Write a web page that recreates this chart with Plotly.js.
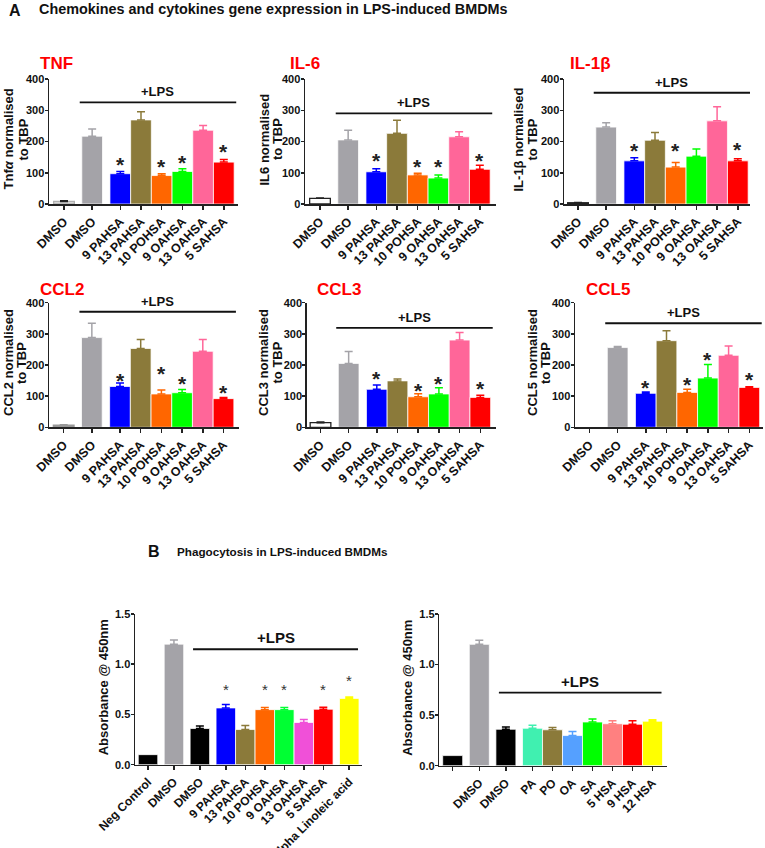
<!DOCTYPE html>
<html><head><meta charset="utf-8">
<script src="https://cdn.plot.ly/plotly-3.0.1.min.js"></script>
<style>html,body{margin:0;padding:0;background:#fff}#chart{width:765px;height:848px}</style>
</head><body><div id="chart"></div>
<script>
// ---------------- DATA ----------------
const catsA = ["DMSO","DMSO","9 PAHSA","13 PAHSA","10 POHSA","9 OAHSA","13 OAHSA","5 SAHSA"];

const tnfVals  = [8, 217, 97, 269, 91, 104, 236, 134];
const tnfErr   = [2, 23, 7, 26, 6, 9, 15, 8];
const tnfStars = [null, null, 146, null, 138, 151, null, 187];

const il6Vals  = [18, 205, 103, 226, 93, 83, 215, 111];
const il6Err   = [1, 31, 10, 42, 5, 10, 16, 13];
const il6Stars = [null, null, 157, null, 140, 140, null, 157];

const il1bVals  = [4, 246, 138, 204, 118, 153, 266, 138];
const il1bErr   = [1, 14, 10, 25, 15, 23, 45, 7];
const il1bStars = [null, null, 189, null, 189, null, null, 194];

const ccl2Vals  = [7, 288, 131, 253, 107, 111, 244, 92];
const ccl2Err   = [1, 46, 11, 29, 13, 10, 38, 4];
const ccl2Stars = [null, null, 170, null, 191, 161, null, 130];

const ccl3Vals  = [15, 205, 122, 149, 98, 107, 280, 96];
const ccl3Err   = [2, 38, 14, 6, 10, 20, 24, 7];
const ccl3Stars = [null, null, 175, null, 136, 160, null, 143];

const ccl5Vals  = [0, 256, 109, 278, 112, 158, 231, 128];
const ccl5Err   = [0, 3, 4, 32, 10, 44, 30, 2];
const ccl5Stars = [null, null, 146, null, 157, 237, null, 173];

const lpsLevelsA = [325, 290, 356, 371, 319, 334];

const catsB1  = ["Neg Control","DMSO","DMSO","9 PAHSA","13 PAHSA","10 POHSA","9 OAHSA","13 OAHSA","5 SAHSA","alpha Linoleic acid"];
const valsB1  = [0.10, 1.20, 0.36, 0.565, 0.35, 0.548, 0.548, 0.42, 0.552, 0.66];
const errB1   = [0, 0.04, 0.025, 0.035, 0.04, 0.022, 0.022, 0.03, 0.02, 0.015];
const starsB1 = [null, null, null, 0.79, null, 0.79, 0.79, null, 0.785, 0.875];

const catsB2  = ["","DMSO","DMSO","PA","PO","OA","SA","5 HSA","9 HSA","12 HSA"];
const valsB2  = [0.10, 1.20, 0.36, 0.37, 0.355, 0.298, 0.432, 0.415, 0.41, 0.44];
const errB2   = [0, 0.04, 0.022, 0.03, 0.022, 0.04, 0.03, 0.03, 0.035, 0.015];
const starsB2 = [null, null, null, null, null, null, null, null, null, null];

const lpsLevelsB = [1.149, 0.722];

// ---------------- STYLE / LAYOUT ----------------
const W = 765, H = 848;
const FONT = 'Liberation Sans, Arial, Helvetica, sans-serif';
const colA = ['#a4a3a8','#0000ff','#8b7a3a','#ff6600','#00ff00','#ff6699','#ff0000'];
const stepsA = [1.36,1.36,1,1,1,1,1];
const colB1 = ['#000000','#a4a3a8','#000000','#0000ff','#8b7a3a','#ff6600','#00ff33','#f050d8','#ff0000','#ffff00'];
const colB2 = ['#000000','#a4a3a8','#000000','#40f0b0','#8b7a3a','#55a0ff','#00ff00','#ff8080','#ff0000','#ffff00'];
const stepsB1 = [1.33,1.33,1.33,1,1,1,1,1,1.33];
const stepsB2 = [1.33,1.33,1.33,1,1,1,1,1,1];

const panels = [
 {title:'TNF', ytitle:['Tnf<i>α</i> normalised','to TBP'], ytx:[8,23], cats:catsA, vals:tnfVals, err:tnfErr, stars:tnfStars, lps:lpsLevelsA[0],
  colors:['#e4e4e4'].concat(colA), firstLine:'#b0b0b0', px:[49,238], py:[79,204], c0:64, u:20.7, steps:stepsA,
  tpos:[38,64], yrange:[0,400], dtick:100, fmt:'', big:true},
 {title:'IL-6', ytitle:['IL6 normalised','to TBP'], ytx:[264,277.5], cats:catsA, vals:il6Vals, err:il6Err, stars:il6Stars, lps:lpsLevelsA[1],
  colors:['#ffffff'].concat(colA), firstLine:'#222222', px:[305,496], py:[79,204], c0:320, u:20.7, steps:stepsA,
  tpos:[288,64], yrange:[0,400], dtick:100, fmt:'', big:true},
 {title:'IL-1β', ytitle:['IL-1β normalised','to TBP'], ytx:[518,532], cats:catsA, vals:il1bVals, err:il1bErr, stars:il1bStars, lps:lpsLevelsA[2],
  colors:['#222222'].concat(colA), firstLine:'#222222', px:[564,750], py:[79,204], c0:578, u:20.7, steps:stepsA,
  tpos:[568,64], yrange:[0,400], dtick:100, fmt:'', big:true},
 {title:'CCL2', ytitle:['CCL2 normalised','to TBP'], ytx:[8,21], cats:catsA, vals:ccl2Vals, err:ccl2Err, stars:ccl2Stars, lps:lpsLevelsA[3],
  colors:['#999999'].concat(colA), firstLine:'#999999', px:[49,239], py:[302.7,427.3], c0:63.7, u:20.7, steps:stepsA,
  tpos:[38,289], yrange:[0,400], dtick:100, fmt:'', big:true},
 {title:'CCL3', ytitle:['CCL3 normalised','to TBP'], ytx:[263,276.5], cats:catsA, vals:ccl3Vals, err:ccl3Err, stars:ccl3Stars, lps:lpsLevelsA[4],
  colors:['#ffffff'].concat(colA), firstLine:'#222222', px:[306.7,496], py:[302.7,427.3], c0:320.5, u:20.7, steps:stepsA,
  tpos:[315,289], yrange:[0,400], dtick:100, fmt:'', big:true},
 {title:'CCL5', ytitle:['CCL5 normalised','to TBP'], ytx:[532,545], cats:catsA, vals:ccl5Vals, err:ccl5Err, stars:ccl5Stars, lps:lpsLevelsA[5],
  colors:['#ffffff'].concat(colA), firstLine:'#ffffff', px:[575,763], py:[302.7,427.3], c0:589.5, u:20.7, steps:stepsA,
  tpos:[584,289], yrange:[0,400], dtick:100, fmt:'', big:true},
 {title:'', ytitle:['Absorbance @ 450nm'], ytx:[103], cats:catsB1, vals:valsB1, err:errB1, stars:starsB1, lps:lpsLevelsB[0],
  colors:colB1, firstLine:null, px:[135,362], py:[614,764.7], c0:148, u:19.5, steps:stepsB1,
  tpos:null, yrange:[0,1.5], dtick:0.5, fmt:'.1f', big:false},
 {title:'', ytitle:['Absorbance @ 450nm'], ytx:[408], cats:catsB2, vals:valsB2, err:errB2, stars:starsB2, lps:lpsLevelsB[1],
  colors:colB2, firstLine:null, px:[439.3,666.7], py:[614,765.7], c0:452.7, u:20, steps:stepsB2,
  tpos:null, yrange:[0,1.5], dtick:0.5, fmt:'.1f', big:false}
];

const traces = [], shapes = [], annotations = [];
const layout = {
  width: W, height: H, margin:{l:0,r:0,t:0,b:0}, showlegend:false,
  paper_bgcolor:'#ffffff', plot_bgcolor:'rgba(0,0,0,0)',
  font:{family:FONT, color:'#111'}, barmode:'overlay'
};

panels.forEach((p, k) => {
  const n = k + 1;
  const xa = 'x' + n, ya = 'y' + n;
  const pos = [0];
  p.steps.forEach((s, i) => pos.push(pos[i] + s));
  const xr = [(p.px[0] - p.c0) / p.u, (p.px[1] - p.c0) / p.u];

  p.vals.forEach((v, i) => {
    const isFirstCustom = (i === 0 && p.firstLine);
    const col = p.colors[i];
    const lineCol = isFirstCustom ? p.firstLine : 'rgba(255,255,255,0.75)';
    const errCol = (col === '#ffffff' || col === '#e4e4e4') ? '#222222' : col;
    traces.push({
      type:'bar', x:[pos[i]], y:[v], width:[1.0], name:p.cats[i],
      marker:{color:col, line:{color:lineCol, width: isFirstCustom ? 1.3 : 1}},
      error_y:{type:'data', symmetric:false, array:[p.err[i]], arrayminus:[0],
               color:errCol, thickness:1.5, width:4, visible: p.err[i] > 0},
      xaxis:xa, yaxis:ya, hoverinfo:'skip', showlegend:false
    });
    if (p.stars[i] != null) {
      annotations.push({xref:xa, yref:ya, x:pos[i], y:p.stars[i], text:'*', showarrow:false,
        xanchor:'center', yanchor:'middle', yshift: p.big ? -6 : -4,
        font:{size: p.big ? 21 : 15, color: p.big ? '#222' : '#333', weight: p.big ? 'bold' : 'normal'}});
    }
  });

  const last = pos[pos.length - 1];
  const lx0 = p.big ? pos[1] - 0.6 : pos[2] - 0.35;
  const lx1 = p.big ? last + 0.6 : last + 0.45;
  shapes.push({type:'line', xref:xa, yref:ya, x0:lx0, x1:lx1, y0:p.lps, y1:p.lps,
               line:{color:'#111', width:1.8}});
  annotations.push({xref:xa, yref:ya, x:(lx0 + lx1) / 2, y:p.lps, text:'+LPS', showarrow:false,
    xanchor:'center', yanchor:'bottom', yshift:1,
    font:{size: p.big ? 13 : 15, weight:'bold', color:'#111'}});

  layout['xaxis' + (n === 1 ? '' : n)] = {
    domain:[p.px[0] / W, p.px[1] / W], range:xr, anchor:ya,
    tickmode:'array', tickvals:pos, ticktext:p.cats, tickangle:-45,
    tickfont:{size: p.big ? 12.5 : 12, weight:'bold', color:'#111'},
    ticks:'outside', ticklen:4, tickwidth:1.5, tickcolor:'#222',
    showline:true, linewidth:1.5, linecolor:'#222', showgrid:false, zeroline:false, fixedrange:true
  };
  layout['yaxis' + (n === 1 ? '' : n)] = {
    domain:[1 - p.py[1] / H, 1 - p.py[0] / H], range:p.yrange, anchor:xa,
    tick0:0, dtick:p.dtick, tickformat:p.fmt,
    tickfont:{size:11, weight:'bold', color:'#111'},
    ticks:'outside', ticklen:3, tickwidth:1.5, tickcolor:'#222', ticklabelstandoff:-2,
    showline:true, linewidth:1.5, linecolor:'#222', showgrid:false, zeroline:false, fixedrange:true
  };

  // y-axis title, one annotation per line
  p.ytitle.forEach((t, j) => {
    annotations.push({xref:'paper', yref:'paper', x:p.ytx[j] / W, y:1 - ((p.py[0] + p.py[1]) / 2 - 2) / H,
      text:t, textangle:-90, showarrow:false, xanchor:'center', yanchor:'middle',
      font:{size:13, weight:'bold', color:'#111'}});
  });
  // panel title
  if (p.tpos) {
    annotations.push({xref:'paper', yref:'paper', x:p.tpos[0] / W, y:1 - p.tpos[1] / H,
      text:p.title, showarrow:false, xanchor:'left', yanchor:'middle',
      font:{size:17, weight:'bold', color:'#ff0000'}});
  }
});

// section headings
const headings = [
  {t:'A', x:7, y:11, s:16},
  {t:'Chemokines and cytokines gene expression in LPS-induced BMDMs', x:37, y:9, s:14.4},
  {t:'B', x:146, y:551, s:16},
  {t:'Phagocytosis in LPS-induced BMDMs', x:175, y:551, s:11.7}
];
headings.forEach(h => annotations.push({xref:'paper', yref:'paper', x:h.x / W, y:1 - h.y / H,
  text:h.t, showarrow:false, xanchor:'left', yanchor:'middle',
  font:{size:h.s, weight:'bold', color:'#111'}}));

layout.shapes = shapes;
layout.annotations = annotations;

Plotly.newPlot('chart', traces, layout, {displayModeBar:false, staticPlot:true});
</script></body></html>
